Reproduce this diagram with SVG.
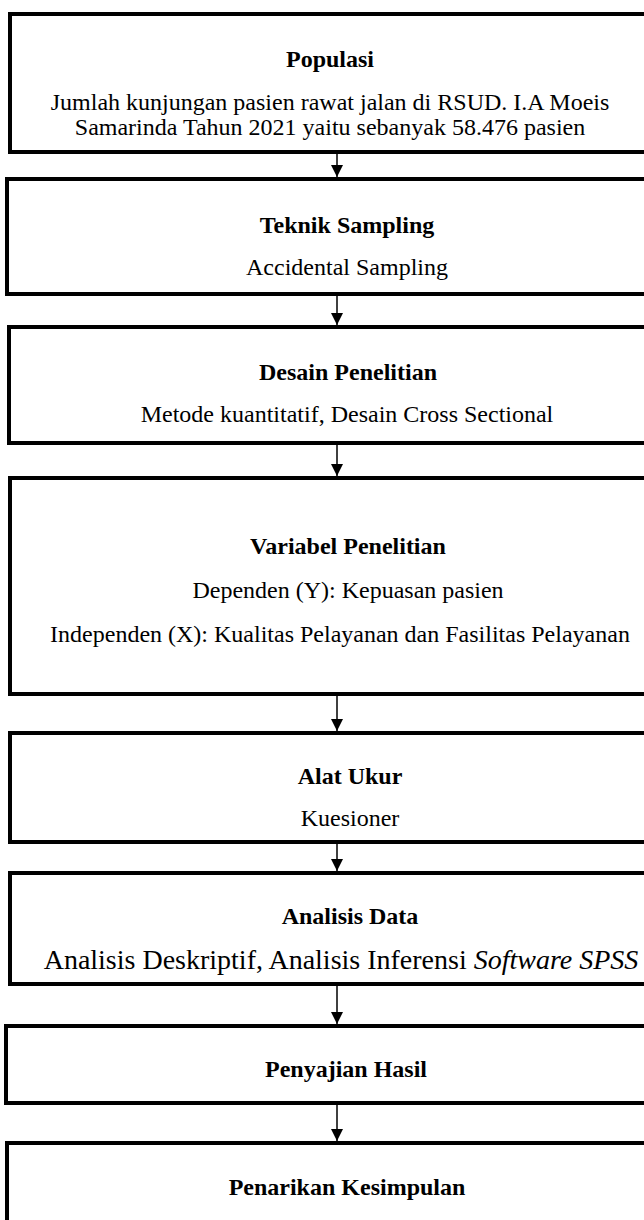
<svg xmlns="http://www.w3.org/2000/svg" width="644" height="1220" viewBox="0 0 644 1220">
<style>
.box{fill:#fff;stroke:#000;stroke-width:4}
.t{font-family:"Liberation Serif","Times New Roman",serif;font-size:24px;fill:#000;text-anchor:middle}
.b{font-weight:bold}
.con{stroke:#000;stroke-width:1.5;fill:none}
</style>
<defs>
<marker id="ah" markerWidth="12" markerHeight="12" refX="12" refY="6" orient="auto" markerUnits="userSpaceOnUse" viewBox="0 0 12 12">
<path d="M0,0 L12,6 L0,12 Z" fill="#000"/>
</marker>
</defs>
<rect width="644" height="1220" fill="#fff"/>
<g id="n1"><rect class="box" x="10" y="14" width="700" height="138"/>
<text class="t b" x="330" y="67">Populasi</text>
<text class="t" x="330" y="110">Jumlah kunjungan pasien rawat jalan di RSUD. I.A Moeis</text>
<text class="t" x="330" y="135">Samarinda Tahun 2021 yaitu sebanyak 58.476 pasien</text></g>
<g id="n2"><rect class="box" x="7" y="179" width="700" height="115"/>
<text class="t b" x="347" y="233">Teknik Sampling</text>
<text class="t" x="347" y="275">Accidental Sampling</text></g>
<g id="n3"><rect class="box" x="9" y="327" width="700" height="116"/>
<text class="t b" x="348" y="380">Desain Penelitian</text>
<text class="t" x="347" y="422">Metode kuantitatif, Desain Cross Sectional</text></g>
<g id="n4"><rect class="box" x="10" y="478" width="700" height="216"/>
<text class="t b" x="348" y="554">Variabel Penelitian</text>
<text class="t" x="348" y="598">Dependen (Y): Kepuasan pasien</text>
<text class="t" x="340" y="642">Independen (X): Kualitas Pelayanan dan Fasilitas Pelayanan</text></g>
<g id="n5"><rect class="box" x="10" y="733" width="700" height="109"/>
<text class="t b" x="350" y="784">Alat Ukur</text>
<text class="t" x="350" y="826">Kuesioner</text></g>
<g id="n6"><rect class="box" x="10" y="873" width="700" height="111"/>
<text class="t b" x="350" y="924">Analisis Data</text>
<text class="t" x="341" y="969" style="font-size:28px">Analisis Deskriptif, Analisis Inferensi <tspan font-style="italic">Software SPSS</tspan></text></g>
<g id="n7"><rect class="box" x="6" y="1026" width="700" height="77"/>
<text class="t b" x="346" y="1077">Penyajian Hasil</text></g>
<g id="n8"><rect class="box" x="7" y="1143" width="700" height="120"/>
<text class="t b" x="347" y="1195">Penarikan Kesimpulan</text></g>
<g id="connectors">
<line class="con" x1="337" y1="154" x2="337" y2="177" marker-end="url(#ah)"/>
<line class="con" x1="337" y1="296" x2="337" y2="325" marker-end="url(#ah)"/>
<line class="con" x1="337" y1="445" x2="337" y2="476" marker-end="url(#ah)"/>
<line class="con" x1="337" y1="696" x2="337" y2="731" marker-end="url(#ah)"/>
<line class="con" x1="337" y1="844" x2="337" y2="871" marker-end="url(#ah)"/>
<line class="con" x1="337" y1="986" x2="337" y2="1024" marker-end="url(#ah)"/>
<line class="con" x1="337" y1="1105" x2="337" y2="1141" marker-end="url(#ah)"/>
</g>
</svg>
